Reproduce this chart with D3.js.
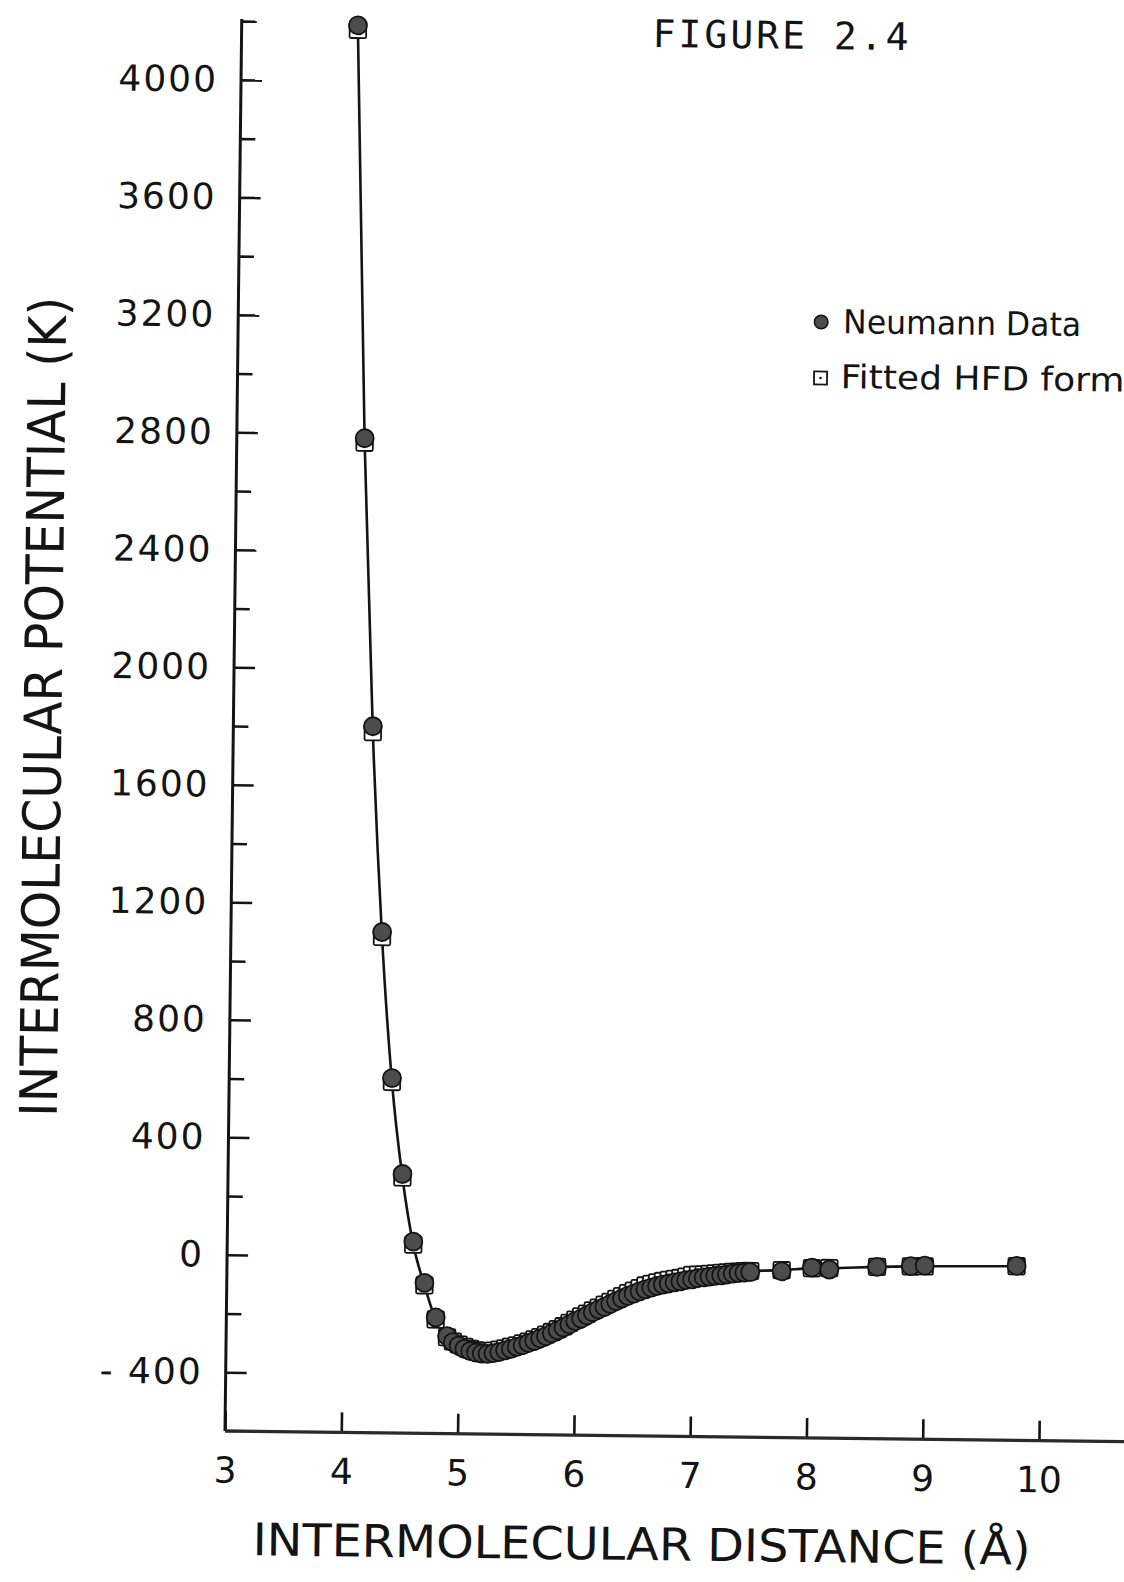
<!DOCTYPE html>
<html>
<head>
<meta charset="utf-8">
<script src="https://cdn.jsdelivr.net/npm/d3@7"></script>
<style>
  html, body { margin: 0; padding: 0; background: #fff; }
  svg { display: block; }
</style>
</head>
<body>
<svg id="chart" width="1124" height="1582"></svg>
<script>
// Intermolecular distance r (Å) of each point
const distance = [4.0, 4.1, 4.2, 4.3, 4.4, 4.5, 4.6, 4.7, 4.8, 4.9, 4.95,
                  5.0, 5.05, 5.1, 5.15, 5.2, 5.25, 5.3, 5.35, 5.4, 5.45,
                  5.5, 5.55, 5.6, 5.65, 5.7, 5.75, 5.8, 5.85, 5.9, 5.95,
                  6.0, 6.05, 6.1, 6.15, 6.2, 6.25, 6.3, 6.35, 6.4, 6.45,
                  6.5, 6.55, 6.6, 6.65, 6.7, 6.75, 6.8, 6.85, 6.9, 6.95,
                  7.0, 7.05, 7.1, 7.15, 7.2, 7.25, 7.3, 7.35, 7.4, 7.45,
                  7.5, 7.77, 8.03, 8.18, 8.59, 8.88, 9.0, 9.79];
// Neumann potential data (K)
const neumann = [4190, 2785, 1805, 1105, 608, 282, 52, -88, -205, -268, -288,
                 -300, -311, -318, -323, -326, -327, -324, -320, -314, -309,
                 -302, -296, -288, -281, -272, -264, -254, -244, -234, -223,
                 -212, -203, -192, -181, -171, -162, -152, -142, -133, -124,
                 -116, -108, -101, -95, -89, -84, -80, -76, -72, -68,
                 -65, -61, -58, -55, -52, -50, -47, -44, -42, -40,
                 -38, -34, -20, -26, -15, -11, -9, -6];
// Fitted HFD form (K)
const hfd = [4175, 2770, 1785, 1088, 595, 270, 42, -96, -212, -272, -286,
             -296, -304, -310, -315, -318, -318, -316, -312, -308, -302,
             -297, -290, -284, -276, -268, -259, -250, -240, -230, -218,
             -207, -196, -186, -175, -165, -155, -145, -135, -125, -115,
             -106, -97, -88, -82, -77, -72, -68, -64, -61, -56,
             -50, -49, -48, -46, -44, -42, -40, -38, -37, -35,
             -34, -30, -22, -21, -15, -12, -11, -7];

const xTickValues = [3, 4, 5, 6, 7, 8, 9, 10];
const yMajorTicks = [-400, 0, 400, 800, 1200, 1600, 2000, 2400, 2800, 3200, 3600, 4000];
const yMinorTicks = [-200, 200, 600, 1000, 1400, 1800, 2200, 2600, 3000, 3400, 3800, 4200];

const legendLabels = ["Neumann Data", "Fitted HFD form"];
const titleText = "FIGURE 2.4";
const xTitle = "INTERMOLECULAR DISTANCE (Å)";
const yTitle = "INTERMOLECULAR POTENTIAL (K)";

const svg = d3.select("#chart");
const originX = 225, originY = 1431;

// the whole sheet sits slightly turned on the page
const g = svg.append("g")
  .attr("transform", `rotate(0.68, ${originX}, ${originY})`);

const x = d3.scaleLinear().domain([3, 10]).range([originX, 1039]);
const y = d3.scaleLinear().domain([-600, 4200]).range([originY, 21]);

const ink = "#141414";
const sans = "'DejaVu Sans', 'Liberation Sans', sans-serif";

// y axis: labelled major ticks and short minor ticks, both pointing inward
const yAxis = d3.axisLeft(y)
  .tickValues(yMajorTicks)
  .tickSize(-21)
  .tickPadding(23)
  .tickFormat(d => d < 0 ? "- " + Math.abs(d) : String(d));
const yAxisG = g.append("g").attr("transform", `translate(${originX},0)`).call(yAxis);
yAxisG.select(".domain").remove();
yAxisG.selectAll(".tick line").attr("stroke", ink).attr("stroke-width", 2.6);
yAxisG.selectAll(".tick text")
  .attr("fill", ink)
  .style("font-family", sans)
  .style("font-size", "36px")
  .style("letter-spacing", "2px");

const yMinor = d3.axisLeft(y).tickValues(yMinorTicks).tickSize(-15).tickFormat("");
const yMinorG = g.append("g").attr("transform", `translate(${originX},0)`).call(yMinor);
yMinorG.select(".domain").remove();
yMinorG.selectAll(".tick line").attr("stroke", ink).attr("stroke-width", 2.6);

// x axis: ticks pointing up
const xAxis = d3.axisBottom(x)
  .tickValues(xTickValues)
  .tickSize(-20)
  .tickPadding(26)
  .tickFormat(d => String(d));
const xAxisG = g.append("g").attr("transform", `translate(0,${originY})`).call(xAxis);
xAxisG.select(".domain").remove();
xAxisG.selectAll(".tick line").attr("stroke", ink).attr("stroke-width", 2.6);
xAxisG.selectAll(".tick text")
  .attr("fill", ink)
  .style("font-family", sans)
  .style("font-size", "36px");

// axis lines
g.append("line")
  .attr("x1", originX).attr("x2", originX)
  .attr("y1", y(4200) - 2).attr("y2", originY)
  .attr("stroke", ink).attr("stroke-width", 3);
g.append("line")
  .attr("x1", originX).attr("x2", 1150)
  .attr("y1", originY).attr("y2", originY)
  .attr("stroke", "#2a2a2a").attr("stroke-width", 3.4);

// fitted curve through the HFD points
const points = distance.map((r, i) => ({ r, data: neumann[i], fit: hfd[i] }));

const line = d3.line()
  .x(d => x(d.r))
  .y(d => y(d.fit))
  .curve(d3.curveMonotoneX);

g.append("path")
  .datum(points)
  .attr("d", line)
  .attr("fill", "none")
  .attr("stroke", ink)
  .attr("stroke-width", 2.6);

// open squares: fitted HFD form
const sq = 16.5;
g.append("g").selectAll("rect")
  .data(points)
  .join("rect")
  .attr("x", d => x(d.r) - sq / 2)
  .attr("y", d => y(d.fit) - sq / 2)
  .attr("width", sq).attr("height", sq)
  .attr("rx", 1.5)
  .attr("fill", "#fff")
  .attr("stroke", ink)
  .attr("stroke-width", 1.8);

// filled circles: Neumann data
g.append("g").selectAll("circle")
  .data(points)
  .join("circle")
  .attr("cx", d => x(d.r))
  .attr("cy", d => y(d.data))
  .attr("r", 9)
  .attr("fill", "#4c4c4c")
  .attr("stroke", ink)
  .attr("stroke-width", 1.8);

// legend
const legend = g.append("g");
legend.append("circle")
  .attr("cx", 808).attr("cy", 315).attr("r", 6.8)
  .attr("fill", "#4c4c4c").attr("stroke", ink).attr("stroke-width", 1.5);
legend.append("rect")
  .attr("x", 808 - 6.5).attr("y", 371 - 6.5).attr("width", 13).attr("height", 13)
  .attr("fill", "#fff").attr("stroke", ink).attr("stroke-width", 1.8);
legend.append("circle")
  .attr("cx", 808).attr("cy", 371).attr("r", 1.3).attr("fill", ink);
legend.selectAll("text")
  .data(legendLabels)
  .join("text")
  .attr("x", (d, i) => i === 0 ? 830 : 828)
  .attr("y", (d, i) => i === 0 ? 326 : 381)
  .attr("textLength", (d, i) => i === 0 ? 238 : 284)
  .attr("lengthAdjust", "spacingAndGlyphs")
  .attr("fill", ink)
  .style("font-family", sans)
  .style("font-size", "33px")
  .text(d => d);

// figure number
g.append("text")
  .attr("x", 636).attr("y", 42)
  .attr("textLength", 256)
  .attr("lengthAdjust", "spacing")
  .attr("fill", ink)
  .style("font-family", "'DejaVu Sans Mono', 'Liberation Mono', monospace")
  .style("font-size", "38px")
  .text(titleText);

// axis titles
g.append("text")
  .attr("x", 254).attr("y", 1555)
  .attr("textLength", 778)
  .attr("lengthAdjust", "spacingAndGlyphs")
  .attr("fill", ink)
  .style("font-family", sans)
  .style("font-size", "45px")
  .text(xTitle);

g.append("text")
  .attr("transform", "translate(53,709) rotate(-90)")
  .attr("text-anchor", "middle")
  .attr("textLength", 820)
  .attr("lengthAdjust", "spacingAndGlyphs")
  .attr("fill", ink)
  .style("font-family", sans)
  .style("font-size", "52px")
  .text(yTitle);
</script>
</body>
</html>
